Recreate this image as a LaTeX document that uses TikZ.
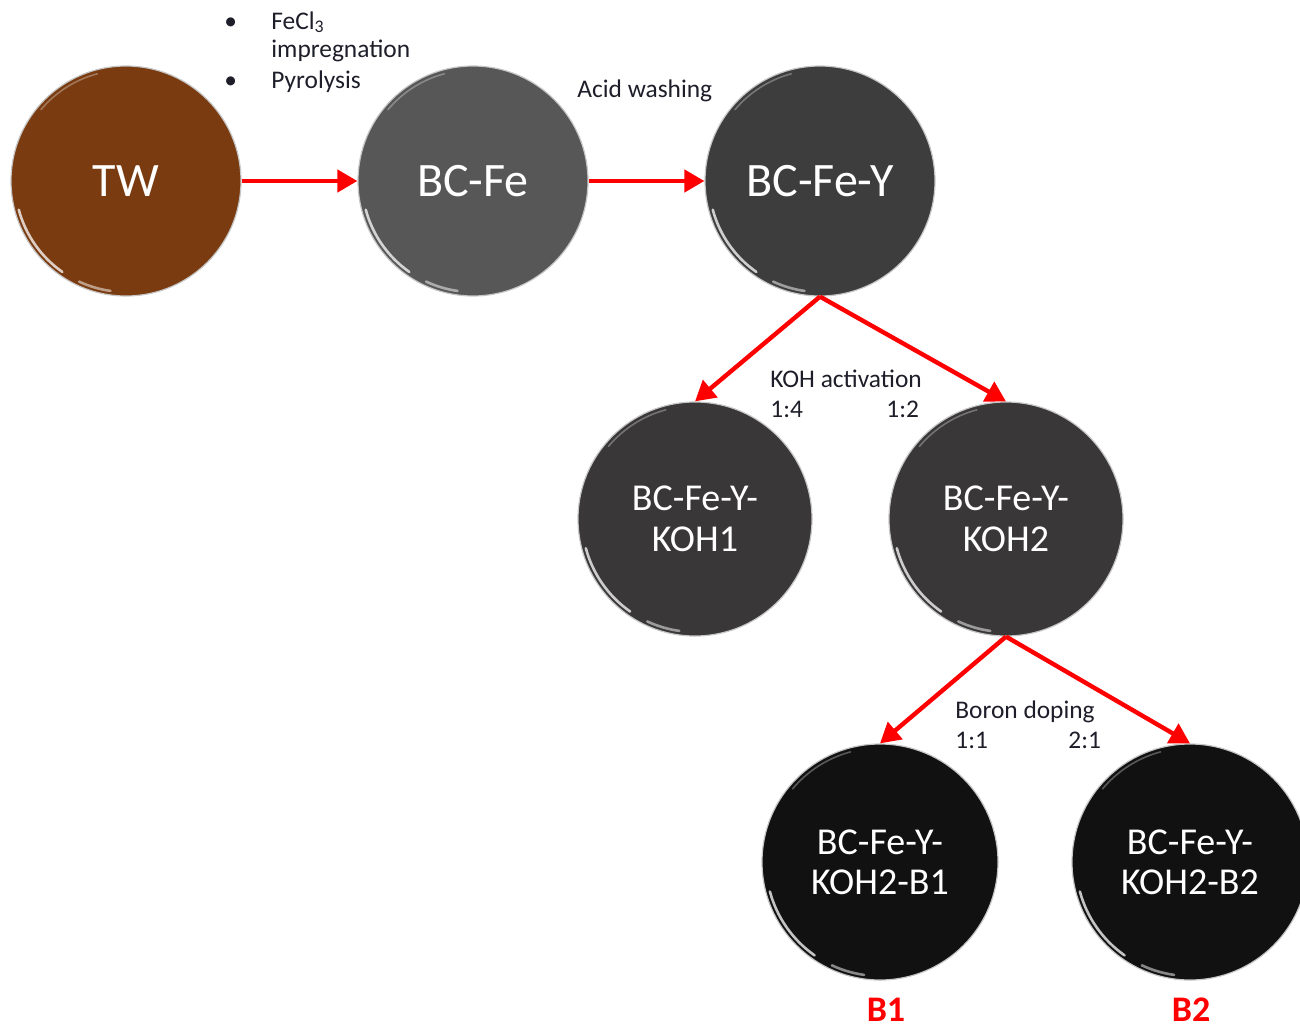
\documentclass[tikz,border=0pt]{standalone}
\usepackage{fontspec}
\setmainfont{Carlito}
\usetikzlibrary{arrows.meta}
\definecolor{twc}{HTML}{7A3B10}
\definecolor{fec}{HTML}{575757}
\definecolor{fyc}{HTML}{3D3D3D}
\definecolor{kc}{HTML}{393738}
\definecolor{bc}{HTML}{111111}
\definecolor{lblc}{HTML}{1E1E2A}
\tikzset{
  ball/.style={circle, inner sep=0pt, text=white, draw=gray!45, line width=0.6pt, align=center},
  big/.style={ball, minimum size=115pt, font=\fontsize{24}{28}\selectfont},
  mid/.style={ball, minimum size=117pt, font=\fontsize{19}{20.5}\selectfont},
  low/.style={ball, minimum size=118pt, font=\fontsize{19}{20}\selectfont},
  lbl/.style={anchor=base west, inner sep=0pt, text=lblc, font=\fontsize{12.7}{14}\selectfont},
  tag/.style={anchor=base, inner sep=0pt, text=red, font=\fontsize{18}{20}\selectfont\bfseries},
  arr/.style={red, line width=2.2pt, -{Triangle[length=10pt,width=11pt]}},
  hl/.style={white, opacity=0.75, line width=1.3pt, line cap=round},
}
\begin{document}
\begin{tikzpicture}[x=0.5pt,y=-0.5pt]
\useasboundingbox (0,0) rectangle (1300,1028);
\clip (0,0) rectangle (1300,1028);
\node[big, fill=twc] (tw) at (126,181) {TW};
\node[big, fill=fec] (bcfe) at (473,181) {BC-Fe};
\node[big, fill=fyc] (bcfey) at (820,181) {BC-Fe-Y};
\node[mid, fill=kc] (koh1) at (695,519) {BC-Fe-Y-\\KOH1};
\node[mid, fill=kc] (koh2) at (1006,519) {BC-Fe-Y-\\KOH2};
\node[low, fill=bc] (b1) at (880,862) {BC-Fe-Y-\\KOH2-B1};
\node[low, fill=bc] (b2) at (1190,862) {BC-Fe-Y-\\KOH2-B2};
% glossy highlights
\foreach \n/\r in {tw/55.5pt, bcfe/55.5pt, bcfey/55.5pt, koh1/56.5pt, koh2/56.5pt, b1/57pt, b2/57pt}{
  \draw[hl] (\n) ++(195:\r) arc[start angle=195, end angle=235, radius=\r];
  \draw[hl, opacity=0.5] (\n) ++(245:\r) arc[start angle=245, end angle=262, radius=\r];
  \draw[hl, opacity=0.3, line width=0.8pt] (\n) ++(105:\r) arc[start angle=105, end angle=140, radius=\r];
}
% connectors
\draw[arr] (tw) -- (bcfe);
\draw[arr] (bcfe) -- (bcfey);
\draw[arr] (bcfey.south) -- (koh1.north);
\draw[arr] (bcfey.south) -- (koh2.north);
\draw[arr] (koh2.south) -- (b1.north);
\draw[arr] (koh2.south) -- (b2.north);
% labels
\node[lbl] (bu1) at (224,29) {•};
\node[lbl] (fecl) at (271,29) {FeCl\textsubscript{3}};
\node[lbl] (imp) at (271,57) {impregnation};
\node[lbl] (bu2) at (224,88) {•};
\node[lbl] (pyr) at (271,88) {Pyrolysis};
\node[lbl] (acid) at (577,97) {Acid washing};
\node[lbl] (koha) at (770,387) {KOH activation};
\node[lbl] (r14) at (770,417) {1:4};
\node[lbl] (r12) at (886,417) {1:2};
\node[lbl] (bor) at (955,718) {Boron doping};
\node[lbl] (r11) at (955,748) {1:1};
\node[lbl] (r21) at (1068,748) {2:1};
\node[tag] (tb1) at (886,1021) {B1};
\node[tag] (tb2) at (1191,1021) {B2};
\end{tikzpicture}
\end{document}
